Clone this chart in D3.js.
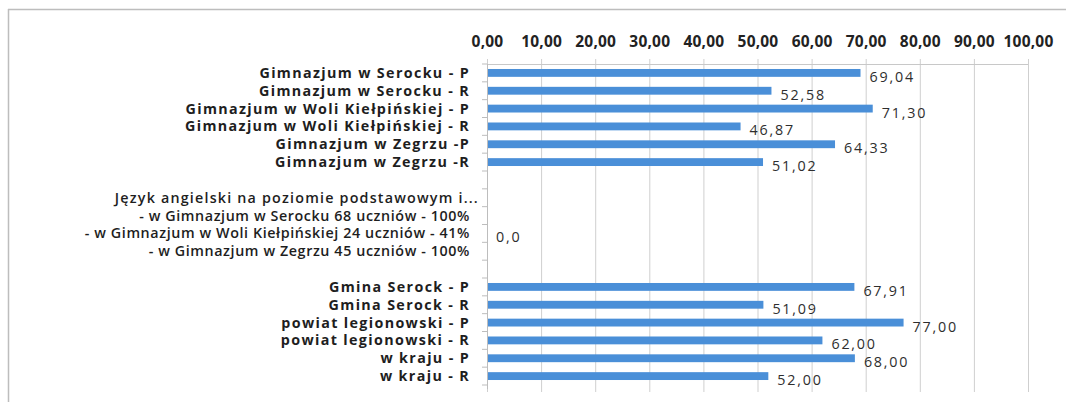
<!DOCTYPE html>
<html>
<head>
<meta charset="utf-8">
<script src="https://cdn.jsdelivr.net/npm/d3@7"></script>
<style>
  html, body { margin: 0; padding: 0; background: #fff; }
  svg { display: block; }
</style>
</head>
<body>
<svg id="chart" width="1066" height="402"></svg>
<script>
// ---- data ----
const categories = [
  "Gimnazjum w Serocku - P",
  "Gimnazjum w Serocku - R",
  "Gimnazjum w Woli Kiełpińskiej - P",
  "Gimnazjum w Woli Kiełpińskiej - R",
  "Gimnazjum w Zegrzu -P",
  "Gimnazjum w Zegrzu -R",
  "",
  "Język angielski na poziomie podstawowym i...",
  "- w Gimnazjum  w Serocku 68 uczniów - 100%",
  "- w Gimnazjum w Woli Kiełpińskiej 24 uczniów - 41%",
  "- w Gimnazjum w Zegrzu 45 uczniów - 100%",
  "",
  "Gmina Serock - P",
  "Gmina Serock - R",
  "powiat legionowski - P",
  "powiat legionowski - R",
  "w kraju - P",
  "w kraju - R"
];
const values = [69.04, 52.58, 71.30, 46.87, 64.33, 51.02,
                null, null, null, 0, null, null,
                67.91, 51.09, 77.00, 62.00, 68.00, 52.00];
const labelDecimals = [2, 2, 2, 2, 2, 2, 0, 0, 0, 1, 0, 0, 2, 2, 2, 2, 2, 2];
const noteRows = [7, 8, 9, 10];
const tickValues = [0, 10, 20, 30, 40, 50, 60, 70, 80, 90, 100];
const tickLabels = ["0,00", "10,00", "20,00", "30,00", "40,00", "50,00",
                    "60,00", "70,00", "80,00", "90,00", "100,00"];

// ---- layout ----
const svg = d3.select("#chart");
const margin = { left: 487, right: 38, top: 64, bottom: 17 };
const W = 1066, H = 402;
const fontFam = "'Open Sans', 'DejaVu Sans', sans-serif";

// outer frame (partial, as in scan)
svg.append("line").attr("x1", 8).attr("x2", 1066).attr("y1", 9.5).attr("y2", 9.5)
  .attr("stroke", "#bdbdbd").attr("stroke-width", 1.5);
svg.append("line").attr("x1", 8.5).attr("x2", 8.5).attr("y1", 9).attr("y2", 402)
  .attr("stroke", "#bdbdbd").attr("stroke-width", 1.5);

const keys = categories.map((c, i) => i);
const x = d3.scaleLinear().domain([0, 100]).range([margin.left, W - margin.right]);
const y = d3.scaleBand().domain(keys).range([margin.top, H - margin.bottom]).paddingInner(0.56).paddingOuter(0.28);

// gridlines
svg.append("g")
  .selectAll("line").data(tickValues).join("line")
  .attr("x1", d => x(d) + 0.5).attr("x2", d => x(d) + 0.5)
  .attr("y1", margin.top - 5).attr("y2", H - 10)
  .attr("stroke", "#cfcfcf").attr("stroke-width", 1);

// top axis line
svg.append("line")
  .attr("x1", x(0)).attr("x2", x(100)).attr("y1", margin.top + 0.5).attr("y2", margin.top + 0.5)
  .attr("stroke", "#c8c8c8");

// top axis tick labels
const xAxis = d3.axisTop(x).tickValues(tickValues)
  .tickFormat((d, i) => tickLabels[i]).tickSize(0).tickPadding(0);
const gx = svg.append("g").attr("transform", `translate(0, 47)`).call(xAxis);
gx.select(".domain").remove();
gx.selectAll("text")
  .attr("font-family", fontFam).attr("font-size", 15.5).attr("font-weight", 700)
  .attr("letter-spacing", 0.2)
  .attr("fill", "#222");

// left category axis
const bandStep = y.step();
const gy = svg.append("g");
gy.append("line")
  .attr("x1", x(0) + 0.5).attr("x2", x(0) + 0.5)
  .attr("y1", margin.top).attr("y2", H - margin.bottom + 4)
  .attr("stroke", "#bdbdbd");
gy.selectAll("line.tk").data(d3.range(categories.length + 1)).join("line")
  .attr("class", "tk")
  .attr("x1", x(0) - 5).attr("x2", x(0))
  .attr("y1", i => y(0) - y.paddingOuter() * bandStep + i * bandStep)
  .attr("y2", i => y(0) - y.paddingOuter() * bandStep + i * bandStep)
  .attr("stroke", "#bdbdbd");

gy.selectAll("text").data(keys).join("text")
  .attr("x", i => i === noteRows[0] ? x(0) - 8 : x(0) - 17)
  .attr("y", i => y(i) + y.bandwidth() / 2)
  .attr("dy", "0.35em")
  .attr("text-anchor", "end")
  .attr("font-family", fontFam)
  .attr("font-size", 14.3)
  .attr("font-weight", i => noteRows.includes(i) ? 600 : 700)
  .attr("letter-spacing", i => i === noteRows[0] ? 1.2 : (noteRows.includes(i) ? 0.6 : 1.35))
  .attr("fill", "#1e1e1e")
  .text(i => categories[i]);

// bars
svg.append("g").selectAll("rect").data(keys.filter(i => values[i] !== null)).join("rect")
  .attr("x", x(0) + 1)
  .attr("y", i => y(i))
  .attr("width", i => Math.max(0, x(values[i]) - x(0) - 1))
  .attr("height", y.bandwidth())
  .attr("fill", "#4a8fd8");

// value labels
const fmt = (v, d) => v.toFixed(d).replace(".", ",");
svg.append("g").selectAll("text").data(keys.filter(i => values[i] !== null)).join("text")
  .attr("x", i => x(values[i]) + 9)
  .attr("y", i => y(i) + y.bandwidth() / 2 + 4)
  .attr("dy", "0.35em")
  .attr("font-family", fontFam).attr("font-size", 14.3)
  .attr("letter-spacing", 1.8)
  .attr("fill", "#2e2e2e")
  .text(i => fmt(values[i], labelDecimals[i]));
</script>
</body>
</html>
